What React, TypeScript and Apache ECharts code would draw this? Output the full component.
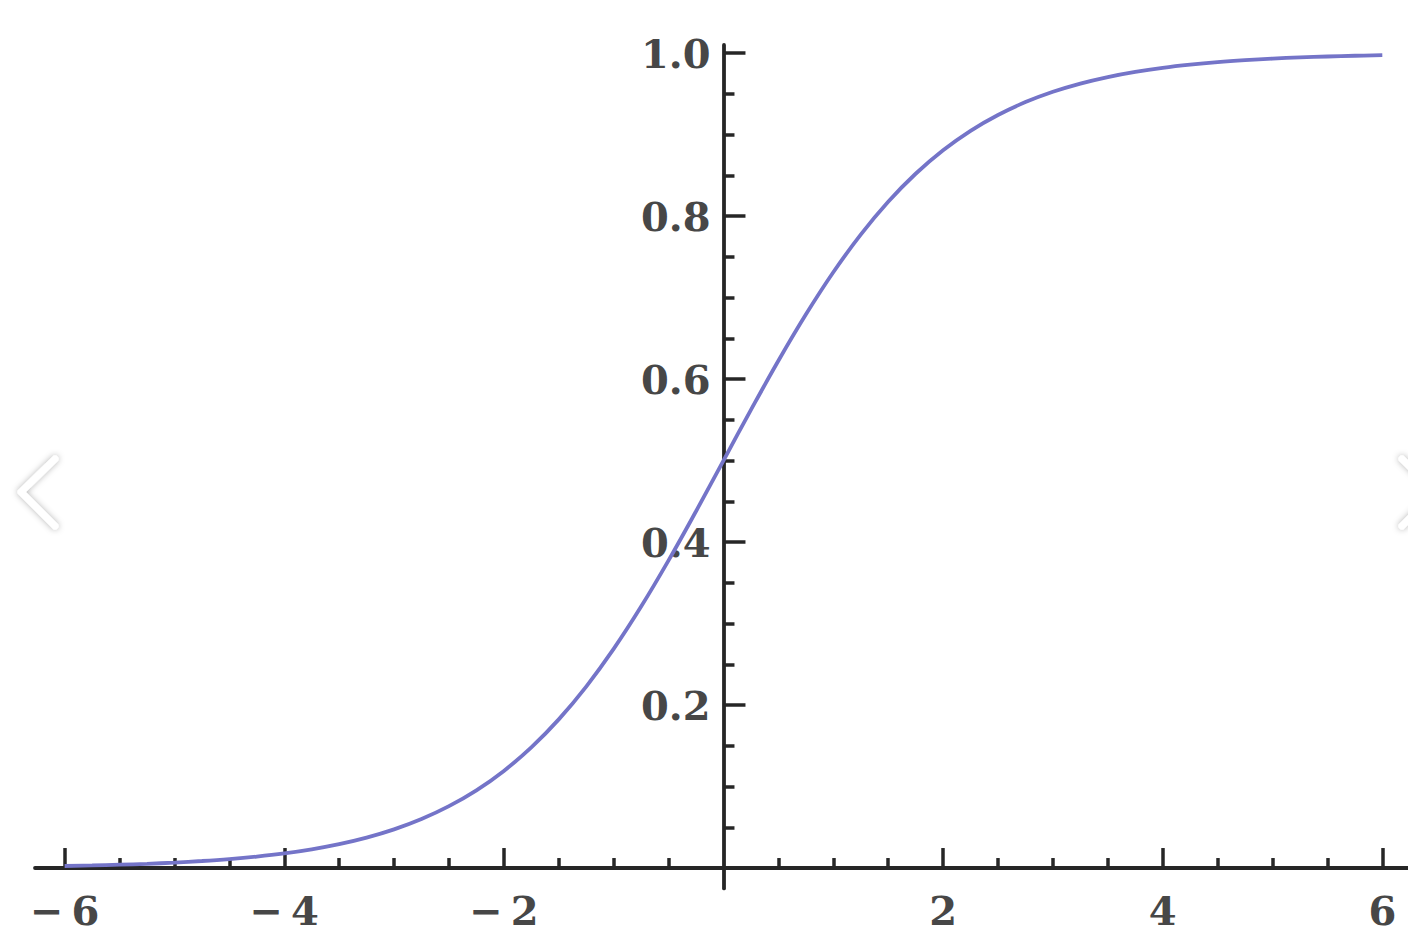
import React, { useEffect, useRef } from "react";
import * as echarts from "echarts";

// Data (logistic curve)
const xValues = [
  -6, -5.75, -5.5, -5.25, -5, -4.75, -4.5, -4.25, -4, -3.75, -3.5, -3.25, -3,
  -2.75, -2.5, -2.25, -2, -1.75, -1.5, -1.25, -1, -0.75, -0.5, -0.25, 0, 0.25,
  0.5, 0.75, 1, 1.25, 1.5, 1.75, 2, 2.25, 2.5, 2.75, 3, 3.25, 3.5, 3.75, 4,
  4.25, 4.5, 4.75, 5, 5.25, 5.5, 5.75, 6,
];
const yValues = [
  0.0025, 0.0032, 0.0041, 0.0052, 0.0067, 0.0086, 0.011, 0.0141, 0.018, 0.023,
  0.0293, 0.0373, 0.0474, 0.0601, 0.0759, 0.0953, 0.1192, 0.148, 0.1824,
  0.2227, 0.2689, 0.3208, 0.3775, 0.4378, 0.5, 0.5622, 0.6225, 0.6792, 0.7311,
  0.7773, 0.8176, 0.852, 0.8808, 0.9047, 0.9241, 0.9399, 0.9526, 0.9627,
  0.9707, 0.977, 0.982, 0.9859, 0.989, 0.9914, 0.9933, 0.9948, 0.9959, 0.9968,
  0.9975,
];
const xMajorTicks = [-6, -4, -2, 2, 4, 6];
const xMinorTicks = [
  -5.5, -5, -4.5, -3.5, -3, -2.5, -1.5, -1, -0.5, 0.5, 1, 1.5, 2.5, 3, 3.5,
  4.5, 5, 5.5,
];
const yMajorTicks = [0.2, 0.4, 0.6, 0.8, 1.0];
const yMinorTicks = [
  0.05, 0.1, 0.15, 0.25, 0.3, 0.35, 0.45, 0.5, 0.55, 0.65, 0.7, 0.75, 0.85,
  0.9, 0.95,
];

const X_MIN = -6.27;
const X_MAX = 6.234;
const Y_MIN = -0.025;
const Y_MAX = 1.01;

const GRID_LEFT = 35;
const GRID_WIDTH = 1373;
const AXIS_COLOR = "#262626";
const LABEL_COLOR = "#474747";
const FONT = "DejaVu Serif";

export default function App() {
  const ref = useRef<HTMLDivElement>(null);

  useEffect(() => {
    if (!ref.current) return;
    const chart = echarts.init(ref.current, undefined, { renderer: "svg" });
    const axisLine = {
      show: true,
      onZero: true,
      lineStyle: { color: AXIS_COLOR, width: 3.8 },
    };
    // distance from grid's left edge to x = 0
    const zeroOffset = ((0 - X_MIN) / (X_MAX - X_MIN)) * GRID_WIDTH;
    const option: any = {
      animation: false,
      backgroundColor: "#ffffff",
      grid: {
        left: GRID_LEFT,
        right: 0,
        top: 45,
        bottom: 54.6,
        containLabel: false,
        outerBoundsMode: "none",
      },
      xAxis: [
        {
          type: "value",
          position: "bottom",
          min: X_MIN,
          max: X_MAX,
          axisLine,
          splitLine: { show: false },
          axisTick: {
            show: true,
            inside: true,
            length: 20,
            customValues: xMajorTicks,
            lineStyle: { color: AXIS_COLOR, width: 3.5 },
          },
          axisLabel: {
            customValues: xMajorTicks,
            margin: 2,
            color: LABEL_COLOR,
            fontFamily: FONT,
            fontWeight: "bold",
            fontSize: 40,
            formatter: (v: number) =>
              v < 0 ? "\u2212\u2009" + String(Math.abs(v)) : String(v),
          },
        },
        {
          type: "value",
          position: "bottom",
          min: X_MIN,
          max: X_MAX,
          axisLine: { show: false, onZero: true },
          splitLine: { show: false },
          axisTick: {
            show: true,
            inside: true,
            length: 10,
            customValues: xMinorTicks,
            lineStyle: { color: AXIS_COLOR, width: 3.5 },
          },
          axisLabel: { show: false },
        },
      ],
      yAxis: [
        {
          type: "value",
          position: "left",
          min: Y_MIN,
          max: Y_MAX,
          axisLine,
          splitLine: { show: false },
          axisTick: {
            show: true,
            inside: true,
            length: 22,
            customValues: yMajorTicks,
            lineStyle: { color: AXIS_COLOR, width: 3.5 },
          },
          axisLabel: { show: false },
        },
        {
          type: "value",
          position: "left",
          min: Y_MIN,
          max: Y_MAX,
          axisLine: { show: false, onZero: true },
          splitLine: { show: false },
          axisTick: {
            show: true,
            inside: true,
            length: 11,
            customValues: yMinorTicks,
            lineStyle: { color: AXIS_COLOR, width: 3.5 },
          },
          axisLabel: { show: false },
        },
        {
          type: "value",
          position: "left",
          offset: -zeroOffset,
          min: Y_MIN,
          max: Y_MAX,
          axisLine: { show: false, onZero: false },
          splitLine: { show: false },
          axisTick: { show: false },
          axisLabel: {
            customValues: yMajorTicks,
            margin: 13,
            color: LABEL_COLOR,
            fontFamily: FONT,
            fontWeight: "bold",
            fontSize: 40,
            formatter: (v: number) => v.toFixed(1),
          },
        },
      ],
      series: [
        {
          type: "line",
          xAxisIndex: 0,
          yAxisIndex: 0,
          data: xValues.map((x, i) => [x, yValues[i]]),
          showSymbol: false,
          smooth: 0.4,
          clip: false,
          lineStyle: { color: "#7474c8", width: 3.8 },
          z: 1,
        },
      ],
      graphic: [
        {
          type: "polyline",
          shape: {
            points: [
              [55, 459],
              [21, 492],
              [55, 526],
            ],
          },
          style: {
            stroke: "#ffffff",
            lineWidth: 7,
            lineCap: "round",
            lineJoin: "round",
            fill: null,
            shadowBlur: 6,
            shadowColor: "rgba(0,0,0,0.3)",
          },
          z: 100,
        },
        {
          type: "polyline",
          shape: {
            points: [
              [1402, 459],
              [1436, 492],
              [1402, 526],
            ],
          },
          style: {
            stroke: "#ffffff",
            lineWidth: 7,
            lineCap: "round",
            lineJoin: "round",
            fill: null,
            shadowBlur: 6,
            shadowColor: "rgba(0,0,0,0.3)",
          },
          z: 100,
        },
      ],
    };
    chart.setOption(option);
    return () => chart.dispose();
  }, []);

  return (
    <div
      ref={ref}
      style={{
        position: "fixed",
        left: 0,
        top: 0,
        width: 1408,
        height: 943,
        background: "#ffffff",
      }}
    />
  );
}
